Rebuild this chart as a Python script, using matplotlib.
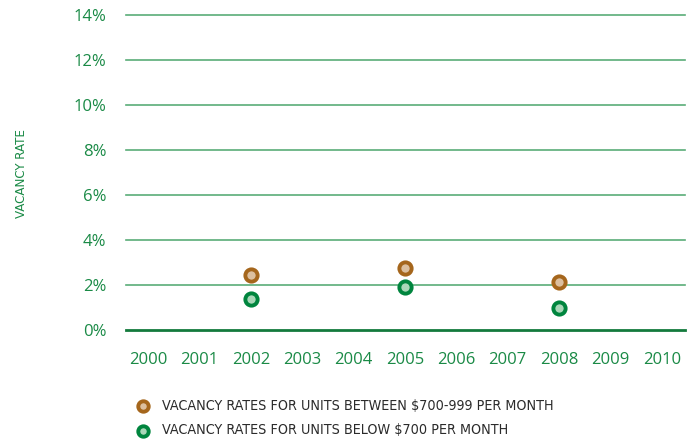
import matplotlib
matplotlib.use("Agg")
import matplotlib.pyplot as plt

# ---------- dados ----------
anos = [2002, 2005, 2008]
taxa_700_999 = [2.44, 2.76, 2.13]
taxa_abaixo_700 = [1.38, 1.91, 0.98]
xticks = list(range(2000, 2011))
yticks = [0, 2, 4, 6, 8, 10, 12, 14]
rotulos_legenda = ["VACANCY RATES FOR UNITS BETWEEN $700-999 PER MONTH",
                   "VACANCY RATES FOR UNITS BELOW $700 PER MONTH"]

verde = "#1a8a46"
grade = "#5aad78"
marrom = "#a5661c"
marrom_claro = "#dcbf9f"
verde_pt = "#00853e"
verde_claro = "#a9d7b8"

fig = plt.figure(figsize=(6.9, 4.4), dpi=100)
ax = fig.add_axes([126 / 690, 1 - 330 / 440, (685 - 126) / 690, (330 - 15) / 440])

for y in yticks[1:]:
    ax.axhline(y, color=grade, lw=1.2, zorder=1, clip_on=False)
ax.axhline(0, color="#137a3c", lw=2, zorder=1, clip_on=False)

ax.scatter(anos, taxa_700_999, s=78, facecolor=marrom_claro, edgecolor=marrom,
           linewidth=2.8, zorder=3, label=rotulos_legenda[0])
ax.scatter(anos, taxa_abaixo_700, s=78, facecolor=verde_claro, edgecolor=verde_pt,
           linewidth=2.8, zorder=3, label=rotulos_legenda[1])

ax.set_xlim(1999.57, 2010.45)
ax.set_ylim(0, 14)
ax.set_xticks(xticks)
ax.set_yticks(yticks)
ax.set_yticklabels([f"{v}%" for v in yticks])
for s in ax.spines.values():
    s.set_visible(False)
ax.tick_params(length=0, colors=verde, labelsize=12)
ax.tick_params(axis="x", pad=16)
ax.tick_params(axis="y", pad=14)
for lbl in ax.get_xticklabels() + ax.get_yticklabels():
    lbl.set_family(["Open Sans", "DejaVu Sans"])

fig.text(22 / 690, 1 - 173 / 440, "VACANCY RATE", rotation=90, color=verde,
         ha="center", va="center", fontsize=9.5, fontstretch="condensed",
         family="DejaVu Sans")

ax.legend(loc="upper left", bbox_to_anchor=(130 / 690, 1 - 393 / 440),
          bbox_transform=fig.transFigure, frameon=False, handletextpad=0.85,
          labelspacing=0.75, borderaxespad=0, handlelength=1.0, markerscale=0.85,
          prop={"family": "DejaVu Sans", "stretch": "condensed", "size": 10.3},
          labelcolor="#2b2b2b")

fig.savefig("out.png", dpi=100)
